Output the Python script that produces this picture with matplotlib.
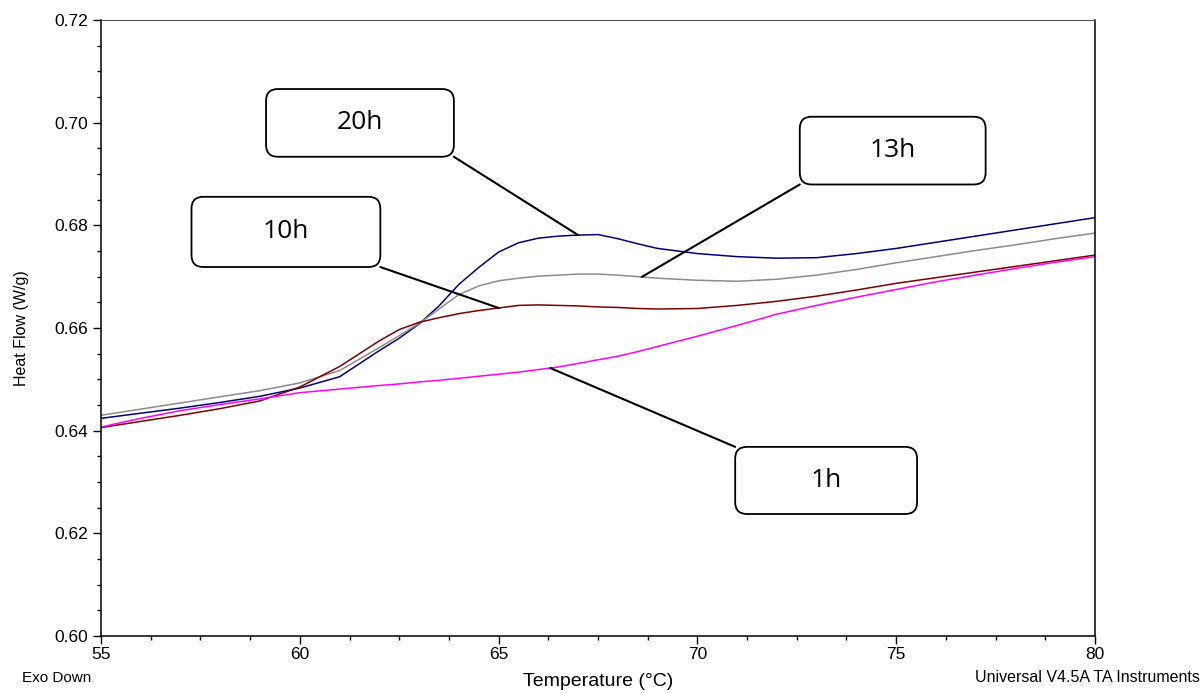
import numpy as np
import matplotlib
matplotlib.use('agg')
import matplotlib.pyplot as plt
from matplotlib.patches import FancyBboxPatch
from matplotlib.ticker import MultipleLocator, FormatStrFormatter

# temperature grid (°C) and heat flow (W/g)
temp = [55, 56, 57, 58, 59, 60, 61, 62, 62.5, 63, 63.5, 64, 64.5, 65, 65.5,
        66, 66.5, 67, 67.5, 68, 68.5, 69, 70, 71, 72, 73, 74, 75, 76, 77, 78, 79, 80]

flow_20h = [0.6424, 0.6434, 0.6444, 0.6455, 0.6467, 0.6483, 0.6505, 0.6556, 0.6580,
            0.6608, 0.6643, 0.6685, 0.6718, 0.6748, 0.6766, 0.6775, 0.6779, 0.6781,
            0.6782, 0.6774, 0.6764, 0.6755, 0.6745, 0.6739, 0.6736, 0.6737, 0.6745,
            0.6755, 0.6767, 0.6779, 0.6791, 0.6803, 0.6815]

flow_13h = [0.6430, 0.6442, 0.6454, 0.6466, 0.6478, 0.6493, 0.6517, 0.6562, 0.6585,
            0.6609, 0.6637, 0.6665, 0.6682, 0.6692, 0.6697, 0.6701, 0.6703, 0.6705,
            0.6705, 0.6703, 0.6700, 0.6697, 0.6693, 0.6691, 0.6695, 0.6703, 0.6714,
            0.6727, 0.6739, 0.6751, 0.6762, 0.6774, 0.6785]

flow_10h = [0.6406, 0.6418, 0.6430, 0.6443, 0.6458, 0.6485, 0.6525, 0.6575, 0.6597,
            0.6611, 0.6620, 0.6628, 0.6634, 0.6639, 0.6644, 0.6645, 0.6644, 0.6643,
            0.6641, 0.6640, 0.6638, 0.6637, 0.6638, 0.6644, 0.6652, 0.6662, 0.6674,
            0.6687, 0.6698, 0.6709, 0.6720, 0.6731, 0.6742]

flow_1h = [0.6407, 0.6424, 0.6439, 0.6451, 0.6462, 0.6474, 0.6481, 0.6488, 0.6491,
           0.6495, 0.6498, 0.6502, 0.6506, 0.6510, 0.6514, 0.6519, 0.6524, 0.6531,
           0.6538, 0.6545, 0.6554, 0.6564, 0.6584, 0.6605, 0.6627, 0.6644, 0.6660,
           0.6675, 0.6690, 0.6703, 0.6716, 0.6728, 0.6739]

series = [
    ('20h', flow_20h, '#000080'),
    ('13h', flow_13h, '#8c8c8c'),
    ('10h', flow_10h, '#800000'),
    ('1h', flow_1h, '#ff00ff'),
]

# callouts: label, temperature the leader points at, box (x0, y0, x1, y1) in axes fraction, corner the leader leaves from
callouts = [
    ('20h', 67.0, flow_20h, (0.166, 0.778, 0.355, 0.888), 'br'),
    ('13h', 68.6, flow_13h, (0.703, 0.733, 0.890, 0.843), 'bl'),
    ('10h', 65.0, flow_10h, (0.091, 0.599, 0.281, 0.713), 'br'),
    ('1h', 66.3, flow_1h, (0.638, 0.198, 0.821, 0.307), 'tl'),
]

plt.rcParams['font.family'] = ['Liberation Sans', 'DejaVu Sans']

fig = plt.figure(figsize=(12.03, 6.93), dpi=100)
ax = fig.add_axes([0.0840, 0.0823, 0.8262, 0.8888])

for name, vals, color in series:
    ax.plot(temp, vals, color=color, lw=1.1, zorder=2)

ax.set_xlim(55, 80)
ax.set_ylim(0.60, 0.72)
ax.xaxis.set_major_locator(MultipleLocator(5))
ax.xaxis.set_minor_locator(MultipleLocator(1.25))
ax.yaxis.set_major_locator(MultipleLocator(0.02))
ax.yaxis.set_minor_locator(MultipleLocator(0.005))
ax.yaxis.set_major_formatter(FormatStrFormatter('%.2f'))
ax.tick_params(which='major', direction='out', length=6, width=1, labelsize=12.5)
ax.tick_params(which='minor', direction='out', length=3, width=1)
ax.tick_params(top=False, right=False, which='both')
ax.tick_params(axis='x', pad=2)

for side in ['left', 'bottom', 'right']:
    ax.spines[side].set_linewidth(1.1)
ax.spines['top'].set_color('#555555')

ax.set_ylabel('Heat Flow (W/g)', fontsize=11.5, labelpad=18)
ax.set_xlabel('Temperature (°C)', fontsize=14, labelpad=8)

fig.text(0.018, 0.022, 'Exo Down', fontsize=11, ha='left', va='center')
fig.text(0.997, 0.022, 'Universal V4.5A TA Instruments', fontsize=11.5, ha='right', va='center')

for label, t, vals, box, corner in callouts:
    x0, y0, x1, y1 = box
    patch = FancyBboxPatch((x0, y0), x1 - x0, y1 - y0,
                           boxstyle='round,pad=0,rounding_size=0.012',
                           transform=ax.transAxes, facecolor='white',
                           edgecolor='black', lw=1.3, zorder=4,
                           mutation_aspect=1.6)
    ax.add_patch(patch)
    ax.text((x0 + x1) / 2, (y0 + y1) / 2, label, transform=ax.transAxes,
            ha='center', va='center', fontsize=19, family=['Open Sans', 'DejaVu Sans'],
            zorder=5)
    cx = x1 if corner[1] == 'r' else x0
    cy = y0 if corner[0] == 'b' else y1
    h = np.interp(t, temp, vals)
    ax.annotate('', xy=(t, h), xycoords='data', xytext=(cx, cy),
                textcoords='axes fraction',
                arrowprops=dict(arrowstyle='-', color='black', lw=1.5,
                                shrinkA=0, shrinkB=0), zorder=3)

fig.savefig('out.png', dpi=100)
